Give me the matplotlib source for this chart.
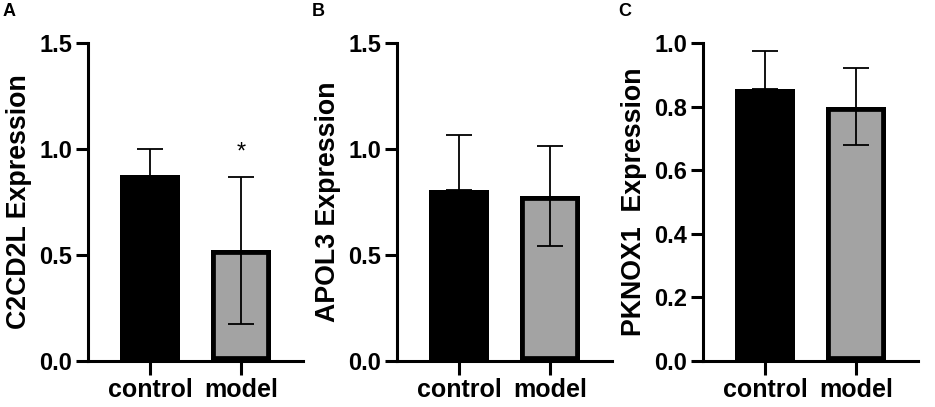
import matplotlib
matplotlib.use('Agg')
import matplotlib.pyplot as plt

plt.rcParams['font.family'] = ['Liberation Sans', 'DejaVu Sans']
plt.rcParams['font.weight'] = 'bold'

groups = ['control', 'model']

# C2CD2L
c2_mean = [0.875, 0.522]
c2_err = [0.125, 0.348]
# APOL3
apol_mean = [0.808, 0.779]
apol_err = [0.258, 0.235]
# PKNOX1
pk_mean = [0.855, 0.800]
pk_err = [0.120, 0.120]

panels = [
    ('A', 'C2CD2L Expression', c2_mean, c2_err, 1.5, [0.0, 0.5, 1.0, 1.5], '{:.1f}'),
    ('B', 'APOL3 Expression', apol_mean, apol_err, 1.5, [0.0, 0.5, 1.0, 1.5], '{:.1f}'),
    ('C', 'PKNOX1  Expression', pk_mean, pk_err, 1.0, [0.0, 0.2, 0.4, 0.6, 0.8, 1.0], '{:.1f}'),
]

bar_colors = ['black', '#a3a3a3']

fig = plt.figure(figsize=(9.35, 4.07), dpi=100)
W, H = 935, 407
lefts = [88, 397, 703]
ax_w = 215
top, bottom = 43, 361

for i, (letter, ylab, means, errs, ymax, ticks, fmt) in enumerate(panels):
    ax = fig.add_axes([lefts[i] / W, 1 - bottom / H, ax_w / W, (bottom - top) / H])
    x = range(len(groups))
    bars = ax.bar(x, means, width=0.66, color=bar_colors, edgecolor='black', linewidth=7, zorder=2)
    # border drawn inside the bar, like the original
    for b in bars:
        b.set_clip_path(b)
    # control: only upper error bar visible, model: both
    ax.errorbar([0], [means[0]], yerr=[[0], [errs[0]]], fmt='none', ecolor='black',
                elinewidth=1.3, capsize=9.5, capthick=1.3, zorder=3)
    ax.errorbar([1], [means[1]], yerr=[[errs[1]], [errs[1]]], fmt='none', ecolor='black',
                elinewidth=1.3, capsize=9.5, capthick=1.3, zorder=3)
    ax.set_xlim(-0.68, 1.68)
    ax.set_ylim(0, ymax)
    ax.set_yticks(ticks)
    ax.set_yticklabels([fmt.format(t) for t in ticks])
    ax.set_xticks(list(x))
    ax.set_xticklabels(groups)
    for s in ['top', 'right']:
        ax.spines[s].set_visible(False)
    for s in ['left', 'bottom']:
        ax.spines[s].set_linewidth(2.2)
    ax.spines['left'].set_bounds(0, ymax)
    ax.tick_params(axis='y', length=8.5, width=2.2, pad=3, labelsize=17)
    ax.tick_params(axis='x', length=10, width=2.2, pad=2, labelsize=18)
    ax.set_ylabel(ylab, fontsize=19.3, fontweight='bold', labelpad=5)
    ax.patch.set_alpha(0)
    fig.text((lefts[i] - 85) / W, 1 - 11 / H, letter, fontsize=13, fontweight='bold',
             ha='left', va='center')
    if letter == 'A':
        ax.text(1, 0.985, '*', ha='center', va='center', fontsize=17, fontweight='normal')

fig.savefig('out.png', dpi=100)
